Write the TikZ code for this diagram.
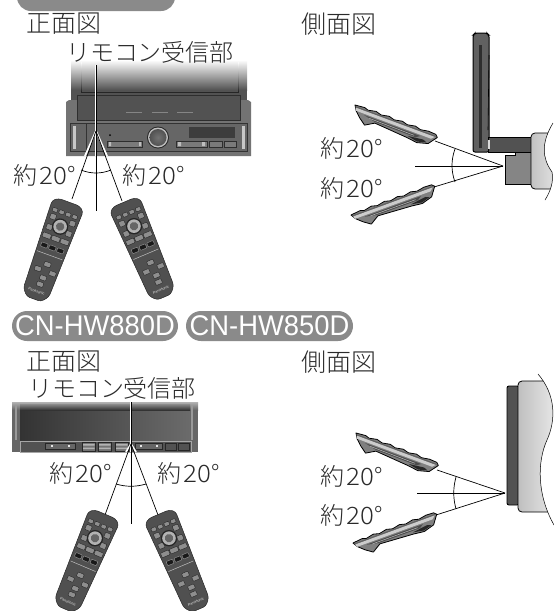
\documentclass[tikz,border=0pt]{standalone}
\usepackage{fontspec}
\setmainfont{Liberation Sans}
\newfontfamily\jp{Noto Sans CJK JP Light}
\newfontfamily\jpwide[FakeStretch=1.08]{Noto Sans CJK JP Light}
\newfontfamily\pillfont[FakeStretch=0.96]{Liberation Sans}
\newcommand{\aboutdeg}{約\hspace{1.500pt}{\jpwide 20}\hspace{0.800pt}°}
\definecolor{pillgray}{HTML}{8A8A8A}
\definecolor{ink}{HTML}{2A2A2A}
\definecolor{body}{HTML}{505050}
\definecolor{key}{HTML}{8E8E8E}
\tikzset{
  pill/.style={fill=pillgray,rounded corners=15pt,text=white,font=\pillfont\fontsize{28.5}{30}\selectfont,inner sep=0pt,minimum height=30pt},
  jlabel/.style={text=ink,font=\jp\fontsize{24}{26}\selectfont,inner sep=0pt},
  jhead/.style={text=ink,font=\jp\fontsize{25}{27}\selectfont,inner sep=0pt},
  deglabel/.style={text=ink,font=\jp\fontsize{24}{26}\selectfont,inner sep=0pt},
  thin line/.style={draw=black,line width=0.7pt},
  halo/.style={draw=white,line width=2.4pt},
  keylight/.style={fill=key,draw=black!85,line width=0.4pt,rounded corners=0.8pt},
  keydark/.style={fill=black!90,draw=key,line width=0.5pt,rounded corners=0.8pt},
  remote/.pic={
    \fill[body,draw=black!85,line width=0.5pt,rounded corners=3pt] (-16.5,1)--(-11,-3)--(11,-3)--(16.5,1)--(13.5,93)--(7.5,100)--(-7.5,100)--(-13.5,93)--cycle;
    \foreach \i in {-10.5,-3.5,3.5,10.5}{\fill[keylight] (\i-2.6,7) rectangle (\i+2.6,11);}
    \foreach \i/\j in {-10/16,10.5/16,-10/27,10.5/27}{\fill[keylight] (\i-3,\j-2.8) rectangle (\i+3,\j+2.8);}
    \fill[black!85] (0,23) circle (8.2);
    \fill[black!30] (0,23) circle (6.8);
    \fill[black!60] (0,23) circle (4.2);
    \foreach \i in {-9.5,0,9.5}{\fill[keylight] (\i-4.3,33.5) rectangle (\i+4.3,38.5);}
    \foreach \i in {-8.5,0,8.5}{\fill[keydark] (\i-3.4,43.5) rectangle (\i+3.4,48);}
    \draw[black!25,line width=0.5pt] (-13.5,53.5)--(13.5,53.5);
    \foreach \i/\j in {1/63,-6.5/70,9/70,1.5/77,0.8/84}{\fill[keylight] (\i-3.4,\j-2.4) rectangle (\i+3.4,\j+2.4);}
    \node[black!10,font=\fontsize{3.6}{4}\selectfont,transform shape,inner sep=0pt] (panaword) at (0,92) {Panasonic};
  },
  sideremote/.pic={
    \fill[black!50,draw=black,line width=0.8pt,line join=round]
      (0,0)--(10,-1)--(14,0.3)--(22,-1.4)--(28,0.2)--(36,-1.4)--(42,0.2)--(50,-1.4)--(56,0.2)--(64,-1.4)--(70,0.2)--(78,-1.2)--(86,-0.8)--(88.5,1.6)--(82,10.5)--(71,13.6)--(60,12.3)--(25,10)--(16,15.5)--(9,10.5)--(3,5)--cycle;
    \fill[black!62] (1,0.8)--(87,0.6)--(86,2)--(1.5,2.2)--cycle;
    \fill[black!20] (1.5,2.2)--(86,2)--(83,5)--(2.5,5)--cycle;
    \fill[black!70] (12,6.2)--(72,6.2)--(68,9)--(24,8.8)--cycle;
    \draw[black!20,line width=0.4pt] (18,7.5)--(66,7.7);
    \fill[black!85] (60,10.5)--(71,12.5)--(80,10)--(76,8.5)--cycle;
  }
}
\begin{document}
\begin{tikzpicture}[x=1pt,y=-1pt]
\useasboundingbox (0,0) rectangle (554,611);
% ---- top pill (cut off by the page)
\fill[pillgray,rounded corners=14pt] (17,-30) rectangle (175,11);
% ---- top front unit
\shade[top color=white,bottom color=black!68] (71,60) rectangle (247,90);
\fill[black!68] (71,90) rectangle (247,100);
\shade[top color=white,bottom color=black!88] (81,62) rectangle (81.7,92);
\shade[top color=white,bottom color=black!88] (238,62) rectangle (238.7,92);
\draw[black!85,line width=0.8pt] (81,92)--(238.7,92);
\fill[black!55] (66,102)--(69,100)--(248,100)--(251,102)--(251,156)--(66,156)--cycle;
\fill[black!68,draw=black!82,line width=0.6pt] (77,95) rectangle (240,120);
\draw[black!48,line width=0.7pt] (126,112)--(142,112) (152,112)--(168,112) (177,112)--(193,112);
\fill[black!60,draw=black!80,line width=0.5pt] (70,123) rectangle (247,151);
\fill[black!22] (73,126) rectangle (76,149);
\fill[black!22] (242,126) rectangle (245,149);
\draw[black!80,line width=0.5pt] (86,124)--(86,151);
\fill[black!76] (189,127) rectangle (235,138);
\fill[black!52,draw=black!82,line width=0.4pt] (107,141) rectangle (142,147);
\fill[black!52,draw=black!82,line width=0.4pt] (176,141) rectangle (207,147);
\fill[black!52,draw=black!82,line width=0.4pt] (209,141) rectangle (222,147);
\fill[black!52,draw=black!82,line width=0.4pt] (224,141) rectangle (236,147);
\fill[black!25] (109,142) rectangle (111,146) (139,142) rectangle (141,146) (178,142) rectangle (181,146) (202,142) rectangle (205,146);
\fill[black] (110,135) circle (1);
\fill[black!85] (158,137.500) circle (11);
\fill[black!25] (158,137.500) circle (10);
\shade[inner color=black!55,outer color=black!68] (158,137.500) circle (8.500);
% ---- headings
\node[jhead] (fronta) at (64,24) {正面図};
\node[jlabel] (recva) at (150,52) {リモコン受信部};
\node[jhead] (sidea) at (339,24) {側面図};
% ---- top front connectors
\coordinate (apexa) at (96,131);
\coordinate (linetopa) at (96,65);
\coordinate (lineenda) at (96,211);
\coordinate (lefta) at (72,199);
\coordinate (righta) at (122,201);
\draw[halo] (linetopa)--(apexa);
\draw[white,line width=1.800pt] (apexa)--(85,156) (apexa)--(107,156) (apexa)--(96,156);
\draw[thin line] (linetopa)--(lineenda);
\draw[thin line] (apexa)--(lefta);
\draw[thin line] (apexa)--(righta);
\draw[thin line] (81,170) .. controls (91,174) and (101,174) .. (111,170);
\node[deglabel] (la) at (45,175) {\aboutdeg};
\node[deglabel] (ra) at (154,175) {\aboutdeg};
\pic[rotate=-20] at (68,205) {remote};
\pic[rotate=23] at (125,205) {remote};
% ---- top side unit
\fill[black!62,draw=black,line width=1pt,rounded corners=2pt] (473,35)--(475,33)--(487,33)--(489,35)--(489,152)--(473,152)--cycle;
\fill[black!82] (479,45) rectangle (482,148);
\draw[black,line width=0.6pt] (489,55)--(488,130);
\fill[black!68,draw=black,line width=1pt] (488,137) rectangle (531,152);
\fill[black!15] (488,140) rectangle (490,149);
\fill[black!48,draw=black,line width=1pt] (505,184)--(505,155)--(515,155)--(515,152)--(531,152)--(531,184)--cycle;
\begin{scope}
\clip (525,123)--(553,123) .. controls (541,143) and (542,158) .. (552,172) .. controls (554,182) and (550,192) .. (545,200)--(525,200)--cycle;
\shade[left color=black!24,right color=black!4,draw=black,line width=0.8pt,rounded corners=4pt] (531,133) rectangle (570,189);
\end{scope}
\draw[black,line width=0.5pt] (553,123) .. controls (541,143) and (542,158) .. (552,172) .. controls (554,182) and (550,192) .. (545,200);
\coordinate (apexb) at (503,166);
\coordinate (lineendb) at (415,166);
\coordinate (upb) at (435,141);
\coordinate (lowb) at (434,187);
\draw[thin line] (lineendb)--(apexb);
\draw[thin line] (upb)--(apexb);
\draw[thin line] (lowb)--(apexb);
\draw[thin line] (455,149) .. controls (451,160) and (451,171) .. (455,182);
\node[deglabel] (ub) at (352,148) {\aboutdeg};
\node[deglabel] (db) at (352,188) {\aboutdeg};
\pic[rotate=-20.500] at (355,105) {sideremote};
\pic[rotate=20] at (351,215) {sideremote};
% ---- lower pills
\node[pill,minimum width=166pt] (pillx) at (95,326) {CN-HW880D};
\node[pill,minimum width=167pt] (pilly) at (269.500,326) {CN-HW850D};
% ---- lower front unit
\shade[top color=black!30,bottom color=black!60] (12,402) rectangle (198,410);
\fill[black!60] (12,410) rectangle (198,452);
\shade[left color=black!80,right color=black!58] (20,408) rectangle (190,440);
\shade[top color=black!45,bottom color=black!80] (20,404) rectangle (190,410);
\fill[black!40] (15,405) rectangle (17,440);
\fill[black!40] (191,405) rectangle (193,440);
\fill[black!68,draw=black!35,line width=0.4pt] (20,441) rectangle (191,452);
\fill[black!60,draw=black!85,line width=0.4pt] (45,443) rectangle (75,449);
\fill[black!60,draw=black!85,line width=0.4pt] (135,443) rectangle (162,449);
\foreach \x in {82,98,115} {\fill[black!55,draw=black!85,line width=0.3pt] (\x,442) rectangle (\x+13.500,451);\fill[black!30] (\x+1,444) rectangle (\x+12.500,445.500) (\x+1,447.500) rectangle (\x+12.500,449);}
\foreach \x in {52,69,141,157} {\fill[black!10] (\x-1,445) rectangle (\x+1,447);}
\draw[black!85,line width=0.5pt] (165,443) rectangle (176,450) (178,443) rectangle (189,450);
% ---- lower headings
\node[jhead] (frontc) at (64,362) {正面図};
\node[jlabel] (recvc) at (112,388) {リモコン受信部};
\node[jhead] (sidec) at (339,362) {側面図};
\coordinate (apexc) at (131,444);
\coordinate (linetopc) at (131,402);
\coordinate (lineendc) at (131,524);
\coordinate (leftc) at (105,515);
\coordinate (rightc) at (158,515);
\draw[halo] (linetopc)--(apexc);
\draw[white,line width=1.800pt] (apexc)--(126,452) (apexc)--(136,452) (apexc)--(131,452);
\draw[thin line] (linetopc)--(lineendc);
\draw[thin line] (apexc)--(leftc);
\draw[thin line] (apexc)--(rightc);
\draw[thin line] (116,484) .. controls (126,487) and (136,487) .. (146,484);
\node[deglabel] (lc) at (81,473) {\aboutdeg};
\node[deglabel] (rc) at (189,473) {\aboutdeg};
\pic[rotate=-23] at (104,517) {remote};
\pic[rotate=23] at (160,517) {remote};
% ---- lower side unit
\fill[black!68,draw=black,line width=0.9pt,rounded corners=2pt] (519,386)--(507,386)--(507,505)--(519,505)--cycle;
\begin{scope}
\clip (512,374)--(538,374) .. controls (556,395) and (556,420) .. (547,440) .. controls (537,462) and (537,495) .. (554,525)--(512,525)--cycle;
\shade[left color=black!25,right color=black!3,draw=black,line width=0.8pt,rounded corners=4pt] (518,381) rectangle (570,512);
\end{scope}
\draw[black,line width=0.5pt] (538,374) .. controls (556,395) and (556,420) .. (547,440) .. controls (537,462) and (537,495) .. (554,525);
\coordinate (apexd) at (505,493);
\coordinate (lineendd) at (417,493);
\coordinate (upd) at (437,470);
\coordinate (lowd) at (436,515);
\draw[thin line] (lineendd)--(apexd);
\draw[thin line] (upd)--(apexd);
\draw[thin line] (lowd)--(apexd);
\draw[thin line] (456,477) .. controls (453,488) and (453,498) .. (456,509);
\node[deglabel] (ud) at (352,476) {\aboutdeg};
\node[deglabel] (dd) at (352,515) {\aboutdeg};
\pic[rotate=-20.500] at (356,433) {sideremote};
\pic[rotate=20] at (353,543) {sideremote};
\end{tikzpicture}
\end{document}
